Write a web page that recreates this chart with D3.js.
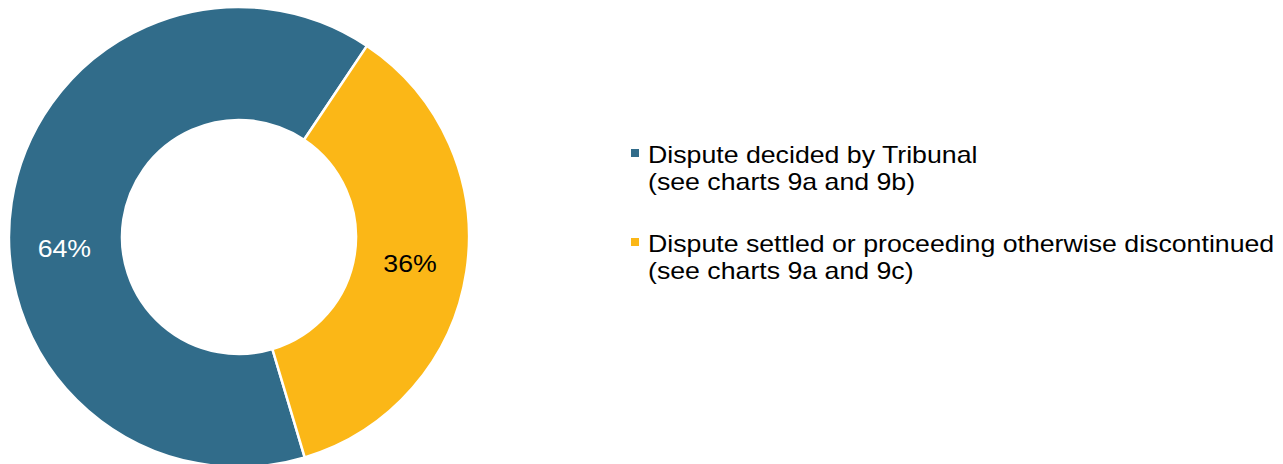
<!DOCTYPE html>
<html>
<head>
<meta charset="utf-8">
<script src="https://cdn.jsdelivr.net/npm/d3@7"></script>
<style>
  html, body { margin: 0; padding: 0; background: #fff; }
  svg { display: block; }
  text { font-family: "Liberation Sans", Arial, sans-serif; }
</style>
</head>
<body>
<svg id="chart" width="1283" height="464"></svg>
<script>
const categories = ["Dispute decided by Tribunal", "Dispute settled or proceeding otherwise discontinued"];
const subLabels = ["(see charts 9a and 9b)", "(see charts 9a and 9c)"];
const values = [64, 36];
const valueLabels = ["64%", "36%"];
const colors = ["#316c8a", "#fbb717"];
const labelColors = ["#ffffff", "#000000"];

const svg = d3.select("#chart");
const cx = 239, cy = 237;
const outerR = 230, innerR = 117;
const fontSize = 24, stretch = 1.113;

const startDeg = 163.4;
const pie = d3.pie().sort(null).value(d => d)
  .startAngle(startDeg * Math.PI / 180)
  .endAngle((startDeg + 360) * Math.PI / 180);
const arcs = pie(values);
const arc = d3.arc().innerRadius(innerR).outerRadius(outerR);

const g = svg.append("g").attr("transform", `translate(${cx},${cy})`);
g.selectAll("path").data(arcs).join("path")
  .attr("d", arc)
  .attr("fill", (d, i) => colors[i])
  .attr("stroke", "#fff")
  .attr("stroke-width", 2.5)
  .attr("stroke-linejoin", "miter");

// data labels (angle nudge mimics the manually placed labels of the source)
const labelR = 173;
const labelNudge = [-0.215, 0.0];
g.selectAll("text.lbl").data(arcs).join("text")
  .attr("class", "lbl")
  .attr("transform", (d, i) => {
    const a = (d.startAngle + d.endAngle) / 2 + labelNudge[i];
    const [x, y] = d3.pointRadial(a, labelR);
    return `translate(${x - (i === 0 ? 2 : 0)},${y}) scale(${stretch},1)`;
  })
  .attr("text-anchor", "middle")
  .attr("dy", "0.36em")
  .attr("font-size", fontSize)
  .attr("fill", (d, i) => labelColors[i])
  .text((d, i) => valueLabels[i]);

// legend
const legX = 631, legY0 = 149, legStep = 89;
const leg = svg.append("g");
const items = leg.selectAll("g").data(categories).join("g")
  .attr("transform", (d, i) => `translate(${legX},${legY0 + i * legStep})`);
items.append("rect")
  .attr("x", 0).attr("y", 0).attr("width", 8).attr("height", 8)
  .attr("fill", (d, i) => colors[i]);
items.append("text")
  .attr("transform", `translate(17,13.5) scale(${stretch},1)`)
  .attr("font-size", fontSize)
  .attr("fill", "#000")
  .text(d => d);
items.append("text")
  .attr("transform", `translate(17,41) scale(${stretch},1)`)
  .attr("font-size", fontSize)
  .attr("fill", "#000")
  .text((d, i) => subLabels[i]);
</script>
</body>
</html>
